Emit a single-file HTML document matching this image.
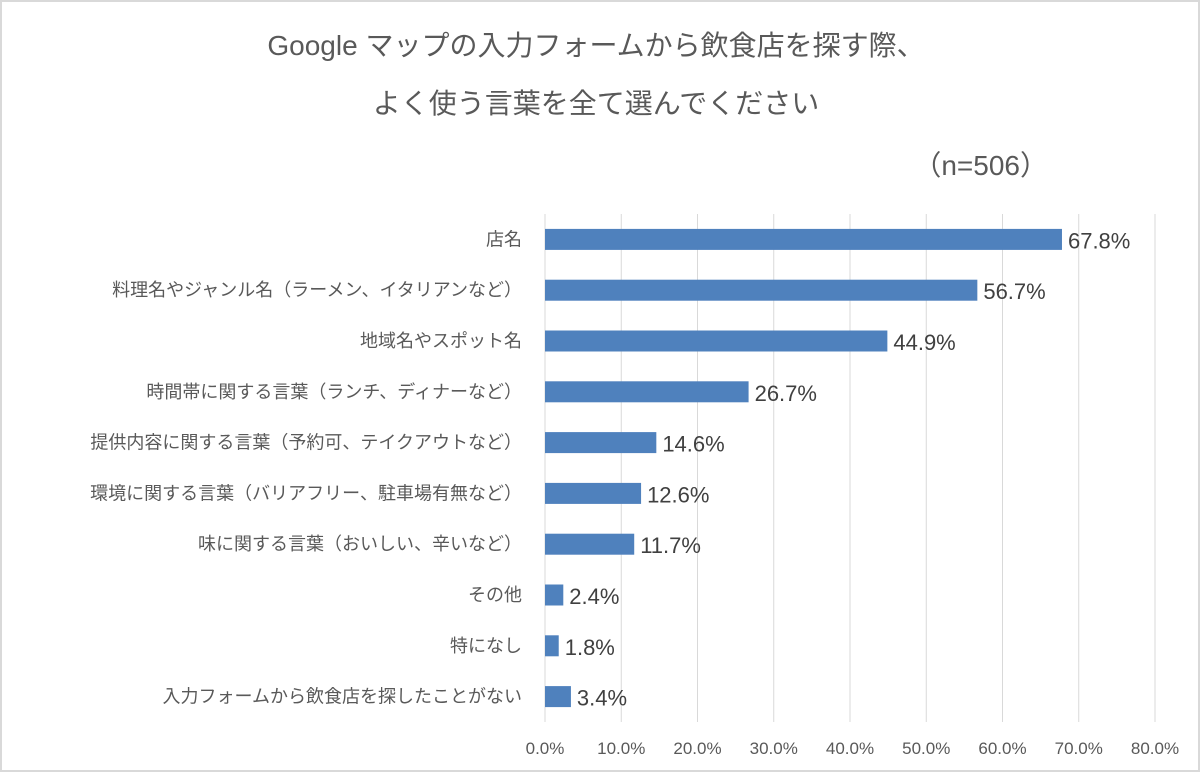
<!DOCTYPE html>
<html><head><meta charset="utf-8"><style>
html,body{margin:0;padding:0;background:#fff}
#wrap{position:relative;width:1200px;height:772px;overflow:hidden;font-family:"Liberation Sans","Noto Sans CJK JP",sans-serif}
#frame{position:absolute;left:0;top:0;width:1196px;height:768px;border:2px solid #d9d9d9}
</style></head><body>
<div id="wrap">
<div id="frame"></div>
<svg id="chart" width="1200" height="772" style="position:absolute;left:0;top:0">
<text x="596" y="55" text-anchor="middle" font-size="28" fill="#595959">Google マップの入力フォームから飲食店を探す際、</text>
<text x="596" y="113" text-anchor="middle" font-size="28" fill="#595959">よく使う言葉を全て選んでください</text>
<text x="1048" y="175" text-anchor="end" font-size="28" fill="#595959">（n=506）</text>
<g id="grid"></g><g id="bars"></g><g id="labels"></g>
</svg>
</div>
<script>
const categories=["店名","料理名やジャンル名（ラーメン、イタリアンなど）","地域名やスポット名","時間帯に関する言葉（ランチ、ディナーなど）","提供内容に関する言葉（予約可、テイクアウトなど）","環境に関する言葉（バリアフリー、駐車場有無など）","味に関する言葉（おいしい、辛いなど）","その他","特になし","入力フォームから飲食店を探したことがない"];
const values=[67.8,56.7,44.9,26.7,14.6,12.6,11.7,2.4,1.8,3.4];
const ticks=[0,10,20,30,40,50,60,70,80];
const NS="http://www.w3.org/2000/svg";
const x0=545,x1=1155,xMax=80,yTop=214,yBot=722;
const xs=v=>x0+(x1-x0)*v/xMax;
const band=(yBot-yTop)/categories.length;
const yc=i=>yTop+band*(i+0.5);
function mk(t,a,p){const e=document.createElementNS(NS,t);for(const k in a)e.setAttribute(k,a[k]);p.appendChild(e);return e;}
const grid=document.getElementById('grid'),bars=document.getElementById('bars'),labels=document.getElementById('labels');
ticks.forEach(t=>{
 const l=mk('line',{x1:xs(t),x2:xs(t),y1:yTop,y2:yBot,stroke:'#d9d9d9','stroke-width':1},grid);
 
 
 const tx=mk('text',{x:xs(t),y:754,'text-anchor':'middle','font-size':17,fill:'#595959'},grid);
 tx.textContent=t.toFixed(1)+'%';
 
 
});
categories.forEach((c,i)=>{
 const y=yc(i);
 const r=mk('rect',{x:x0,y:y-10.5,width:xs(values[i])-x0,height:21,fill:'#4f81bd'},bars);
 
 
 const v=mk('text',{x:xs(values[i])+6,y:y+9,'font-size':22,fill:'#404040'},labels);
 v.textContent=values[i].toFixed(1)+'%';
 
 
 const cl=mk('text',{x:522,y:y+6,'text-anchor':'end','font-size':18,fill:'#595959'},labels);
 cl.textContent=c;
 
 
});
</script>
</body></html>
